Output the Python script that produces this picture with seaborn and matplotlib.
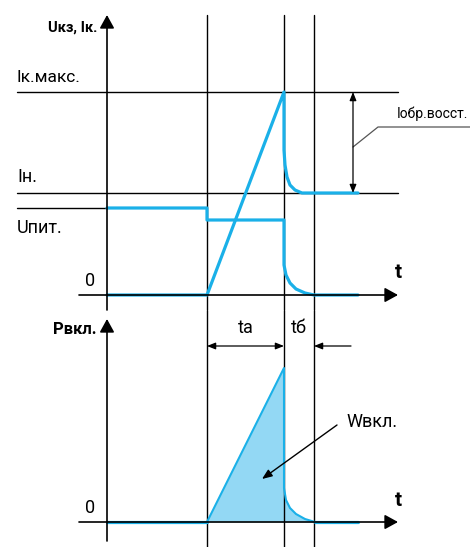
import numpy as np
import pandas as pd
import matplotlib
matplotlib.use("Agg")
import matplotlib.pyplot as plt
import seaborn as sns

# ─────────────────────────────────────────────
# DATA (time in arbitrary units, 0 = axis origin)
# ─────────────────────────────────────────────
T_ON = 10.0     # switch on
T_A = 17.7      # end of ta
T_B = 20.7      # end of tб
T_AXIS = 29.1   # end of time axis

# upper panel levels
I_MAX = 20.3
I_N = 10.2
U_PIT = 8.7

# collector current
i_t = [0.0, 10.0, 17.7, 17.7, 17.8, 18.0, 18.3, 18.8, 19.5, 25.1]
i_v = [0.0, 0.0, 20.3, 14.5, 13.0, 11.8, 11.0, 10.5, 10.2, 10.2]

# collector-emitter voltage
u_t = [0.0, 10.0, 10.0, 17.7, 17.7, 17.9, 18.3, 18.9, 19.8, 20.7, 25.1]
u_v = [8.7, 8.7, 7.5, 7.5, 3.0, 2.0, 1.2, 0.6, 0.2, 0.0, 0.0]

# switching power
p_t = [10.0, 17.7, 17.7, 17.9, 18.3, 18.9, 19.8, 20.8]
p_v = [0.0, 15.4, 3.4, 2.2, 1.4, 0.8, 0.3, 0.0]

BLUE = "#1ab0e8"
FILL = "#93d8f4"

sns.set_style("white")
plt.rcParams['font.family'] = ['Roboto', 'DejaVu Sans']
plt.rcParams['text.color'] = 'black'

fig = plt.figure(figsize=(4.70, 5.47), dpi=100)
ax1 = fig.add_axes([0, 237 / 547, 1, 310 / 547])
ax2 = fig.add_axes([0, 0, 1, 237 / 547])
for ax in (ax1, ax2):
    ax.set_xlim(-10.7, 36.3)
    ax.axis('off')
ax1.set_ylim(-1.5, 29.5)
ax2.set_ylim(-2.5, 21.2)

big_arrow = dict(arrowstyle='-|>,head_length=0.4,head_width=0.22', mutation_scale=20,
                 lw=1.2, color='black', shrinkA=0, shrinkB=0)
small = 'head_length=0.5,head_width=0.2'

# ─────────────────────────────────────────────
# UPPER PANEL
# ─────────────────────────────────────────────
for x in (T_ON, T_A, T_B):
    ax1.plot([x, x], [-1.5, 28.0], color='black', lw=1.0)
ax1.plot([-9.0, T_AXIS], [I_MAX, I_MAX], color='black', lw=1.0)
ax1.plot([-9.0, T_AXIS], [I_N, I_N], color='black', lw=1.0)
ax1.plot([-9.0, 0], [U_PIT, U_PIT], color='black', lw=1.0)
ax1.annotate('', xy=(T_AXIS, 0), xytext=(-2.8, 0), arrowprops=big_arrow)
ax1.annotate('', xy=(0, 28.0), xytext=(0, -1.5), arrowprops=big_arrow)

sns.lineplot(x=u_t, y=u_v, sort=False, estimator=None, color=BLUE, lw=2.3, ax=ax1)
sns.lineplot(x=i_t, y=i_v, sort=False, estimator=None, color=BLUE, lw=2.3, ax=ax1)

# reverse recovery dimension
ax1.annotate('', xy=(24.6, I_MAX), xytext=(24.6, I_N),
             arrowprops=dict(arrowstyle='<|-|>,' + small, mutation_scale=10, lw=0.9,
                             color='black', shrinkA=0, shrinkB=0))
ax1.plot([24.6, 27.1, 36.3], [14.8, 16.8, 16.8], color='#555555', lw=0.9)

ax1.text(-1.0, 26.3, 'Uкз, Iк.', ha='right', va='baseline', fontsize=10.5, fontweight='bold')
ax1.text(-9.0, 21.3, 'Iк.макс.', ha='left', va='baseline', fontsize=12.5)
ax1.text(-9.0, 11.3, 'Iн.', ha='left', va='baseline', fontsize=13)
ax1.text(-9.0, 6.2, 'Uпит.', ha='left', va='baseline', fontsize=13)
ax1.text(-1.2, 0.9, '0', ha='right', va='baseline', fontsize=13)
ax1.text(28.8, 1.7, 't', ha='left', va='baseline', fontsize=15, fontweight='bold')
ax1.text(29.0, 17.7, 'Iобр.восст.', ha='left', va='baseline', fontsize=10)

# ─────────────────────────────────────────────
# LOWER PANEL
# ─────────────────────────────────────────────
for x in (T_ON, T_A, T_B):
    ax2.plot([x, x], [-2.5, 21.2], color='black', lw=1.0)
ax2.annotate('', xy=(T_AXIS, 0), xytext=(-2.8, 0), arrowprops=big_arrow)
ax2.annotate('', xy=(0, 20.3), xytext=(0, -1.9), arrowprops=big_arrow)

ax2.fill_between(p_t, p_v, 0, color=FILL, lw=0)
sns.lineplot(x=[0.0, T_ON], y=[0.0, 0.0], color=BLUE, lw=2.3, ax=ax2)
sns.lineplot(x=[p_t[-1], 25.1], y=[0.0, 0.0], color=BLUE, lw=2.3, ax=ax2)
sns.lineplot(x=p_t, y=p_v, sort=False, estimator=None, color=BLUE, lw=1.5, ax=ax2)

# time intervals
y_dim = 17.6
ax2.annotate('', xy=(T_ON, y_dim), xytext=(T_A, y_dim),
             arrowprops=dict(arrowstyle='<|-|>,' + small, mutation_scale=10, lw=0.9,
                             color='black', shrinkA=0, shrinkB=0))
ax2.annotate('', xy=(T_B, y_dim), xytext=(24.4, y_dim),
             arrowprops=dict(arrowstyle='-|>,' + small, mutation_scale=10, lw=0.9,
                             color='black', shrinkA=0, shrinkB=0))
ax2.text((T_ON + T_A) / 2, 18.9, 'ta', ha='center', va='baseline', fontsize=13)
ax2.text((T_A + T_B) / 2, 18.9, 'tб', ha='center', va='baseline', fontsize=13)

ax2.annotate('', xy=(15.5, 4.3), xytext=(23.0, 9.7),
             arrowprops=dict(arrowstyle='-|>,head_length=0.5,head_width=0.2', mutation_scale=12,
                             lw=1.0, color='black', shrinkA=0, shrinkB=0))
ax2.text(23.9, 9.5, 'Wвкл.', ha='left', va='baseline', fontsize=13)

ax2.text(-1.0, 18.8, 'Pвкл.', ha='right', va='baseline', fontsize=12, fontweight='bold')
ax2.text(-1.2, 0.9, '0', ha='right', va='baseline', fontsize=13)
ax2.text(28.8, 1.6, 't', ha='left', va='baseline', fontsize=15, fontweight='bold')

plt.savefig('out.png', dpi=100)
plt.close()
